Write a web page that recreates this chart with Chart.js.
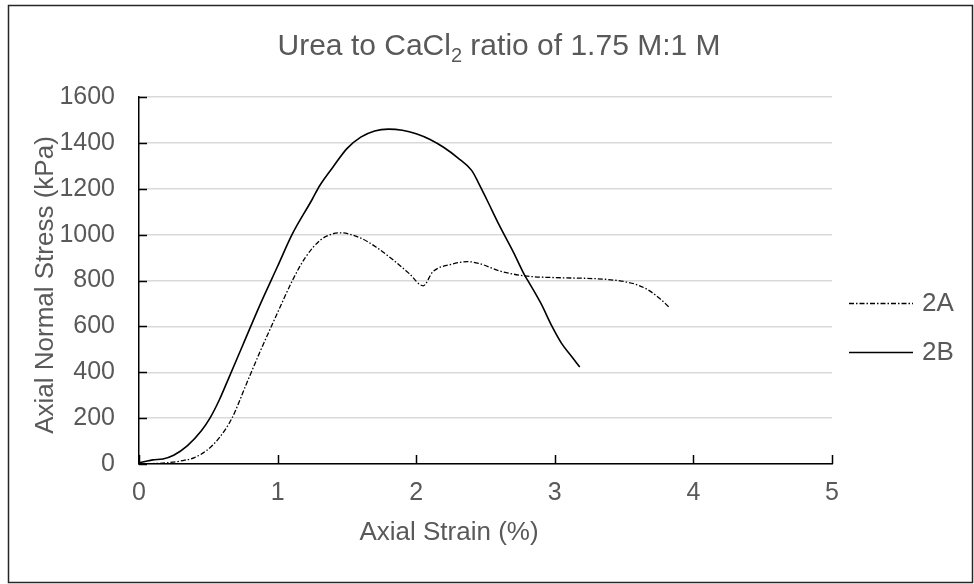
<!DOCTYPE html>
<html>
<head>
<meta charset="utf-8">
<script src="https://cdn.jsdelivr.net/npm/chart.js@4.4.1/dist/chart.umd.min.js"></script>
<style>
  html, body { margin: 0; padding: 0; background: #fff; }
  canvas { display: block; }
</style>
</head>
<body>
<canvas id="c" width="974" height="584"></canvas>
<script>
// ---- data ----
const titleMain = "Urea to CaCl";
const titleSub = "2";
const titleRest = " ratio of 1.75 M:1 M";
const xTitle = "Axial Strain (%)";
const yTitle = "Axial Normal Stress (kPa)";
const seriesNames = ["2A", "2B"];

const strainA = [0, 0.1, 0.2, 0.317, 0.4, 0.49, 0.58, 0.671, 0.779, 0.873, 1.0, 1.111, 1.2, 1.306, 1.38, 1.45, 1.595, 1.7, 1.833, 1.95, 2.05, 2.12, 2.25, 2.37, 2.45, 2.6, 2.785, 3.04, 3.2, 3.35, 3.45, 3.53, 3.6, 3.67, 3.75, 3.83];
const stressA = [0, 2, 5, 15, 28, 60, 115, 200, 355, 489, 660, 805, 900, 975, 1000, 1008, 986, 950, 890, 830, 777, 838, 870, 882, 875, 842, 820, 812, 810, 806, 800, 792, 780, 760, 725, 681];

const strainB = [0, 0.05, 0.1, 0.173, 0.25, 0.35, 0.45, 0.512, 0.58, 0.642, 0.75, 0.873, 1.0, 1.104, 1.248, 1.3, 1.4, 1.5, 1.6, 1.7, 1.8, 1.9, 2.0, 2.1, 2.2, 2.3, 2.4, 2.45, 2.51, 2.6, 2.7, 2.785, 2.81, 2.9, 2.98, 3.05, 3.12, 3.18];
const stressB = [5, 12, 18, 22, 38, 80, 145, 200, 280, 367, 520, 694, 862, 1000, 1152, 1210, 1295, 1375, 1425, 1452, 1460, 1455, 1440, 1415, 1380, 1335, 1280, 1225, 1152, 1040, 925, 820, 795, 700, 600, 525, 470, 423];

const xTicks = [0, 1, 2, 3, 4, 5];
const yTicks = [0, 200, 400, 600, 800, 1000, 1200, 1400, 1600];

// ---- build ----
const toPts = (xs, ys) => xs.map((x, i) => ({ x: x, y: ys[i] }));
const FONT = "'Liberation Sans', Arial, sans-serif";
const TXT = "#595959";

const decor = {
  id: "decor",
  beforeDraw(chart) {
    const ctx = chart.ctx;
    ctx.save();
    ctx.fillStyle = "#fff";
    ctx.fillRect(0, 0, chart.width, chart.height);
    ctx.restore();
  },
  afterDraw(chart) {
    const ctx = chart.ctx;
    const a = chart.chartArea;
    const xs = chart.scales.x, ys = chart.scales.y;
    ctx.save();
    // outer border
    ctx.strokeStyle = "#262626";
    ctx.lineWidth = 1.5;
    ctx.strokeRect(8.5, 5.5, 964, 577);
    // inner tick marks
    ctx.strokeStyle = "#000";
    ctx.lineWidth = 1.5;
    ctx.beginPath();
    yTicks.forEach(v => {
      const y = Math.round(ys.getPixelForValue(v)) + 0.5;
      ctx.moveTo(a.left, y); ctx.lineTo(a.left + 8, y);
    });
    xTicks.forEach(v => {
      const x = Math.round(xs.getPixelForValue(v)) + 0.5;
      ctx.moveTo(x, a.bottom); ctx.lineTo(x, a.bottom - 9);
    });
    ctx.stroke();

    // title with subscript
    ctx.fillStyle = TXT;
    ctx.textBaseline = "alphabetic";
    ctx.textAlign = "left";
    const f1 = "30px " + FONT, f2 = "20px " + FONT;
    ctx.font = f1; const w1 = ctx.measureText(titleMain).width;
    ctx.font = f2; const w2 = ctx.measureText(titleSub).width;
    ctx.font = f1; const w3 = ctx.measureText(titleRest).width;
    let tx = 499 - (w1 + w2 + w3) / 2;
    const tb = 55;
    ctx.font = f1; ctx.fillText(titleMain, tx, tb); tx += w1;
    ctx.font = f2; ctx.fillText(titleSub, tx, tb + 7); tx += w2;
    ctx.font = f1; ctx.fillText(titleRest, tx, tb);

    // axis titles
    ctx.font = "26px " + FONT;
    ctx.textAlign = "center";
    ctx.fillText(xTitle, 449, 540);
    ctx.save();
    ctx.translate(53, 285);
    ctx.rotate(-Math.PI / 2);
    ctx.fillText(yTitle, 0, 0);
    ctx.restore();

    // legend
    const legY = [303, 352];
    chart.data.datasets.forEach((ds, i) => {
      ctx.strokeStyle = ds.borderColor;
      ctx.lineWidth = ds.borderWidth;
      ctx.setLineDash(ds.borderDash || []);
      ctx.beginPath();
      ctx.moveTo(849, legY[i] + 0.5); ctx.lineTo(913, legY[i] + 0.5);
      ctx.stroke();
      ctx.setLineDash([]);
      ctx.fillStyle = TXT;
      ctx.font = "26px " + FONT;
      ctx.textAlign = "left";
      ctx.textBaseline = "middle";
      ctx.fillText(ds.label, 922, legY[i] + 1);
    });
    ctx.restore();
  }
};

new Chart(document.getElementById("c"), {
  type: "line",
  data: {
    datasets: [
      { label: seriesNames[0], data: toPts(strainA, stressA), borderColor: "#000", borderWidth: 1.3,
        borderDash: [5, 2, 1.5, 2], pointRadius: 0, fill: false, cubicInterpolationMode: "monotone" },
      { label: seriesNames[1], data: toPts(strainB, stressB), borderColor: "#000", borderWidth: 1.6,
        pointRadius: 0, fill: false, cubicInterpolationMode: "monotone" }
    ]
  },
  options: {
    responsive: false,
    animation: false,
    devicePixelRatio: 1,
    layout: { padding: { left: 0, right: 142, top: 97, bottom: 0 } },
    plugins: { legend: { display: false }, title: { display: false }, tooltip: { enabled: false } },
    scales: {
      x: {
        type: "linear", min: 0, max: 5,
        afterFit(s) { s.height = 120; },
        afterBuildTicks(s) { s.ticks = xTicks.map(v => ({ value: v })); },
        grid: { display: false, drawTicks: false },
        border: { display: true, color: "#000", width: 1.5 },
        ticks: { padding: 14, color: TXT, font: { family: FONT, size: 25 }, callback: v => String(v) }
      },
      y: {
        type: "linear", min: 0, max: 1600,
        afterFit(s) { s.width = 139; },
        afterBuildTicks(s) { s.ticks = yTicks.map(v => ({ value: v })); },
        grid: { color: "#d9d9d9", lineWidth: 1.5, drawTicks: false },
        border: { display: true, color: "#000", width: 1.5 },
        ticks: { padding: 24, color: TXT, font: { family: FONT, size: 25 }, callback: v => String(v) }
      }
    }
  },
  plugins: [decor]
});
</script>
</body>
</html>
